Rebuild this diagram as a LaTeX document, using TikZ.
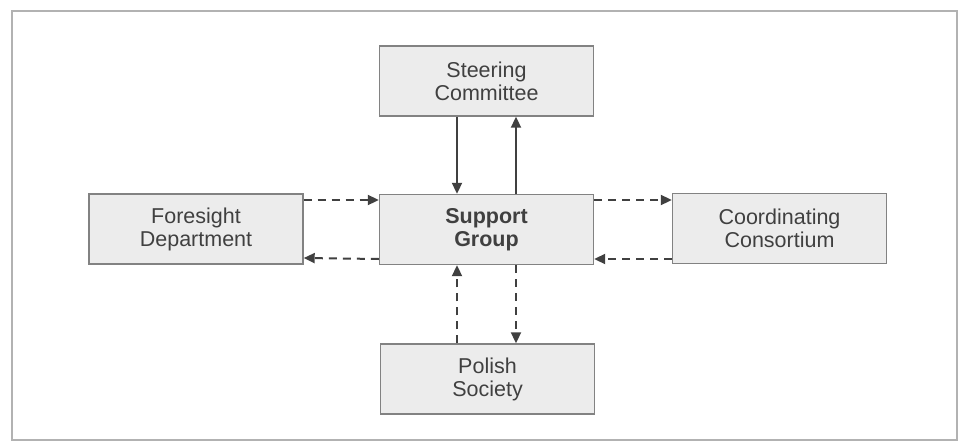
\documentclass[tikz,border=0pt]{standalone}
\usepackage{fontspec}
\setmainfont{Liberation Sans}
\usetikzlibrary{arrows.meta}
\definecolor{BoxGray}{RGB}{236, 236, 236}
\definecolor{EdgeGray}{RGB}{130, 130, 130}
\definecolor{InkGray}{RGB}{64, 64, 64}

\begin{document}
\begin{tikzpicture}[x=1pt, y=-1pt,
                box/.style={draw=EdgeGray, line width=1.4pt, fill=BoxGray, minimum width=214pt, minimum height=70pt, inner sep=0pt, font=\fontsize{21.5}{23}\selectfont, text=InkGray, align=center},
                wire/.style={-{Triangle[length=11pt, width=10pt]}, line width=2pt, InkGray},
                dwire/.style={wire, dash pattern=on 8pt off 6pt}
            ]
                \useasboundingbox (0, 0) rectangle (959, 442);
                % Frame
                \draw[black!30, line width=1.2pt] (12, 11) rectangle (957, 440);

                % Boxes
                \node[box] (steer) at (486.5, 81) {Steering\\Committee};
                \node[box] (support) at (486.5, 229.5) {\bfseries Support\\\bfseries Group};
                \node[box] (foresight) at (196, 229) {Foresight\\Department};
                \node[box] (coord) at (779.5, 228.5) {Coordinating\\Consortium};
                \node[box] (polish) at (487.5, 379) {Polish\\Society};

                % Steering Committee <-> Support Group
                \draw[wire] ([xshift=-29.5pt]steer.south) -- ([xshift=-29.5pt]support.north);
                \draw[wire] ([xshift=29.5pt]support.north) -- ([xshift=29.5pt]steer.south);

                % Foresight Department <-> Support Group
                \draw[dwire] ([yshift=29pt]foresight.east) -- ([yshift=29.5pt]support.west);
                \draw[dwire] ([yshift=-29.5pt]support.west) -- ([yshift=-29pt]foresight.east);

                % Support Group <-> Coordinating Consortium
                \draw[dwire] ([yshift=29.5pt]support.east) -- ([yshift=28.5pt]coord.west);
                \draw[dwire] ([yshift=-30.5pt]coord.west) -- ([yshift=-29.5pt]support.east);

                % Polish Society <-> Support Group
                \draw[dwire] ([xshift=-30.5pt]polish.north) -- ([xshift=-29.5pt]support.south);
                \draw[dwire] ([xshift=29.5pt]support.south) -- ([xshift=28.5pt]polish.north);
            \end{tikzpicture}
\end{document}
